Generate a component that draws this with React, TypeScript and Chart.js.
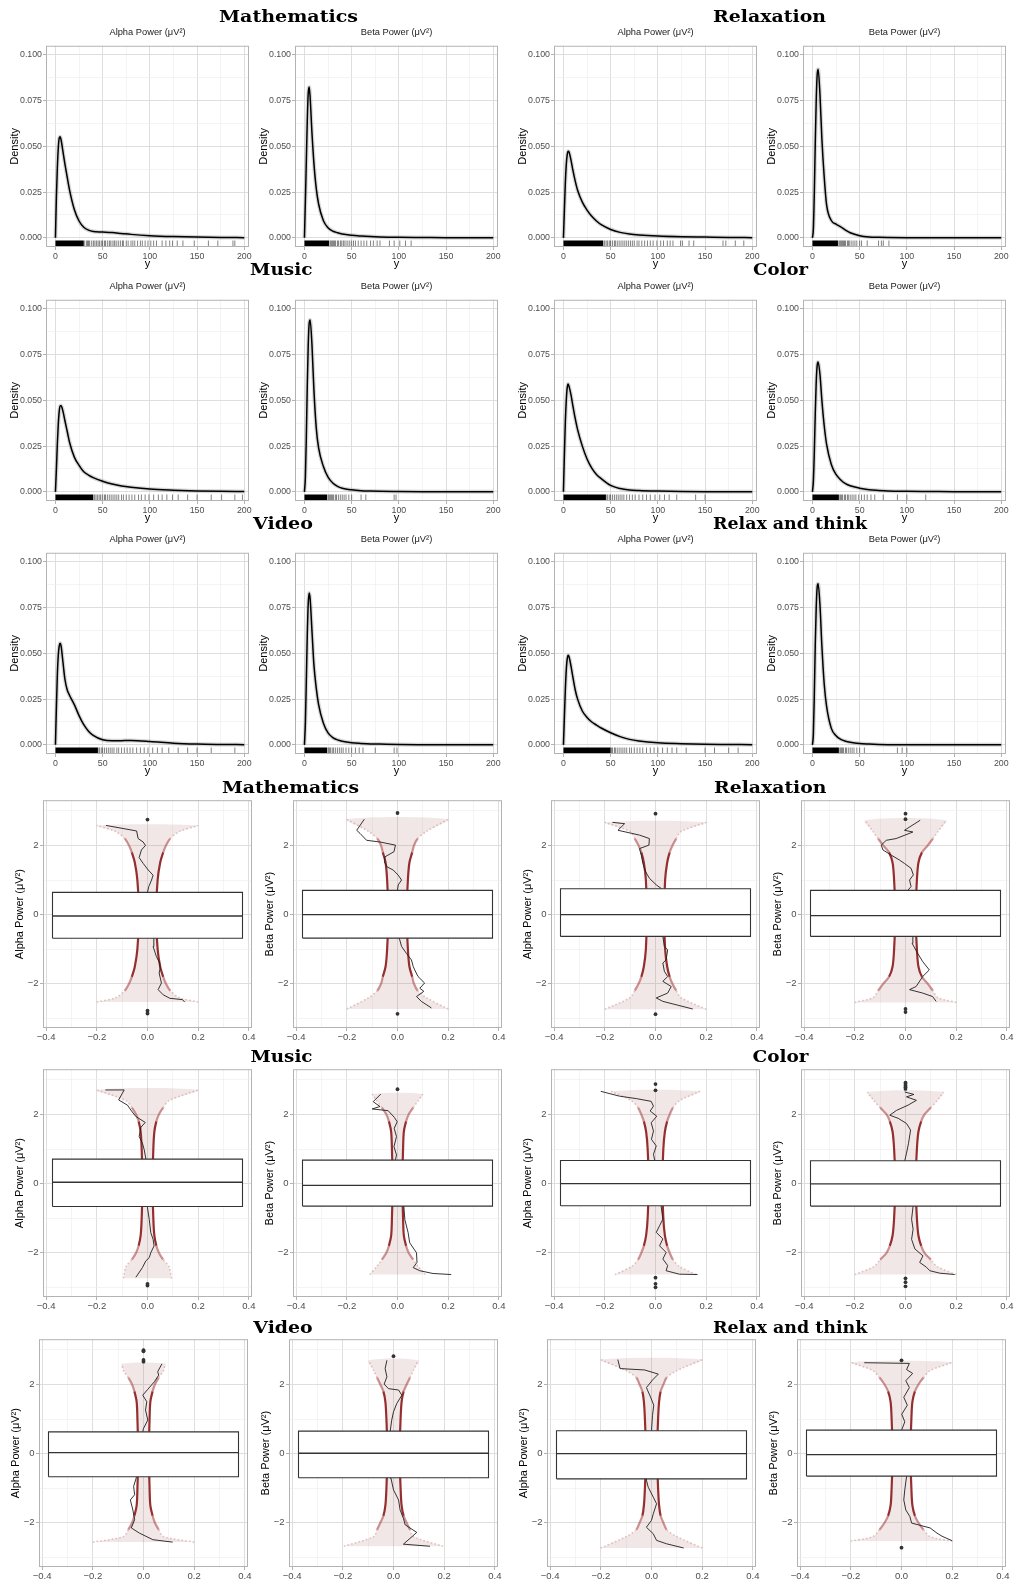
import React, { useEffect, useRef } from 'react';
import { Chart, registerables } from 'chart.js';

Chart.register(...registerables);

const SANS = '"Liberation Sans", Arial, Helvetica, sans-serif';
const SERIF = '"DejaVu Serif", "Liberation Serif", serif';
Chart.defaults.font.family = SANS;
Chart.defaults.color = '#4d4d4d';

// ---------------------------------------------------------------------------
// Labels
// ---------------------------------------------------------------------------
const conditions = ['Mathematics', 'Relaxation', 'Music', 'Color', 'Video', 'Relax and think'];
const powerLabels = ['Alpha Power (\u03bcV\u00b2)', 'Beta Power (\u03bcV\u00b2)'];

// ---------------------------------------------------------------------------
// Density curves (x grid shared by every panel)
// ---------------------------------------------------------------------------
const densityX = [0, 1, 2, 3, 4, 5, 6, 8, 10, 12.5, 15, 20, 25, 30, 35, 40, 50, 60, 70, 80, 100, 125, 150, 175, 200];

const densMathAlpha = [0, 0.022, 0.038, 0.049, 0.0545, 0.0553, 0.0535, 0.047, 0.0405, 0.033, 0.026, 0.0155, 0.0092, 0.0058, 0.0042, 0.0035, 0.0032, 0.0029, 0.0024, 0.0019, 0.0012, 0.0007, 0.0004, 0.0002, 0.0001];
const densMathBeta = [0, 0.02, 0.042, 0.064, 0.079, 0.0825, 0.077, 0.057, 0.041, 0.027, 0.0185, 0.0095, 0.0055, 0.0037, 0.0028, 0.0021, 0.0014, 0.001, 0.0007, 0.0005, 0.0003, 0.0002, 0.0001, 0.00005, 0];
const densRelaxAlpha = [0, 0.015, 0.03, 0.04, 0.0455, 0.0473, 0.0468, 0.0425, 0.037, 0.031, 0.026, 0.0195, 0.0152, 0.0118, 0.0092, 0.0072, 0.0046, 0.003, 0.0021, 0.0016, 0.001, 0.0006, 0.0004, 0.0002, 0.0001];
const densRelaxBeta = [0, 0.005, 0.025, 0.052, 0.075, 0.089, 0.0922, 0.078, 0.054, 0.033, 0.018, 0.0095, 0.0075, 0.006, 0.0042, 0.0028, 0.0012, 0.0005, 0.0003, 0.0002, 0.0001, 0.00005, 0, 0, 0];
const densMusicAlpha = [0, 0.012, 0.026, 0.037, 0.044, 0.047, 0.047, 0.044, 0.039, 0.033, 0.027, 0.019, 0.0145, 0.011, 0.0092, 0.0078, 0.0058, 0.0043, 0.0032, 0.0025, 0.0015, 0.0009, 0.0005, 0.0003, 0.0002];
const densMusicBeta = [0, 0.008, 0.03, 0.058, 0.08, 0.092, 0.094, 0.08, 0.056, 0.035, 0.024, 0.014, 0.008, 0.0048, 0.003, 0.002, 0.0011, 0.0006, 0.0004, 0.0003, 0.0002, 0.0001, 0.00005, 0, 0];
const densColorAlpha = [0, 0.02, 0.038, 0.05, 0.057, 0.059, 0.0575, 0.053, 0.047, 0.04, 0.034, 0.025, 0.018, 0.013, 0.0095, 0.0072, 0.0035, 0.0018, 0.001, 0.0007, 0.0004, 0.0002, 0.0001, 0.00005, 0];
const densColorBeta = [0, 0.006, 0.022, 0.043, 0.06, 0.069, 0.071, 0.064, 0.05, 0.036, 0.026, 0.015, 0.0095, 0.0065, 0.0045, 0.0033, 0.002, 0.0012, 0.0008, 0.0005, 0.0003, 0.0002, 0.0001, 0.00005, 0];
const densVideoAlpha = [0, 0.02, 0.038, 0.049, 0.054, 0.0555, 0.054, 0.045, 0.036, 0.03, 0.027, 0.022, 0.016, 0.011, 0.0075, 0.0052, 0.0028, 0.0022, 0.0023, 0.0024, 0.0019, 0.0009, 0.0004, 0.0002, 0.0001];
const densVideoBeta = [0, 0.012, 0.035, 0.06, 0.077, 0.083, 0.08, 0.062, 0.044, 0.031, 0.022, 0.012, 0.0065, 0.004, 0.0027, 0.002, 0.0012, 0.0008, 0.0005, 0.0004, 0.0002, 0.0001, 0.00005, 0, 0];
const densThinkAlpha = [0, 0.015, 0.03, 0.041, 0.047, 0.049, 0.048, 0.043, 0.037, 0.03, 0.025, 0.0185, 0.015, 0.0125, 0.0108, 0.0092, 0.0066, 0.0045, 0.003, 0.0021, 0.0011, 0.0006, 0.0003, 0.0002, 0.0001];
const densThinkBeta = [0, 0.006, 0.028, 0.055, 0.075, 0.086, 0.088, 0.076, 0.054, 0.033, 0.021, 0.009, 0.005, 0.003, 0.002, 0.0014, 0.0007, 0.0004, 0.0002, 0.0001, 0.00005, 0, 0, 0, 0];

// Rug marks: observations beyond the solid block near zero
const rugMathAlpha = [31, 33, 34, 35, 36, 38, 40, 41, 43, 44, 46, 47, 49, 50, 52, 53, 55, 57, 58, 60, 62, 63, 65, 67, 69, 71, 72, 75, 77, 80, 82, 84, 87, 90, 92, 95, 98, 101, 104, 107, 113, 117, 121, 124, 129, 135, 147, 162, 172, 188, 190];
const rugMathBeta = [27, 28, 29, 30, 31, 32, 33, 35, 36, 38, 39, 41, 42, 44, 46, 48, 50, 52, 54, 57, 60, 63, 66, 70, 73, 77, 80, 90, 95, 101, 107, 113];
const rugRelaxAlpha = [43, 44, 46, 47, 49, 50, 52, 54, 55, 57, 59, 61, 63, 65, 67, 69, 71, 73, 75, 78, 80, 83, 86, 89, 92, 95, 99, 103, 106, 110, 113, 116, 124, 126, 133, 138, 169, 172, 182, 191];
const rugRelaxBeta = [28, 29, 30, 31, 32, 33, 34, 35, 37, 38, 39, 41, 43, 45, 47, 50, 52, 58, 70, 73, 75, 81];
const rugMusicAlpha = [41, 42, 44, 45, 47, 48, 50, 52, 53, 55, 57, 59, 61, 63, 65, 67, 70, 72, 75, 78, 81, 84, 88, 91, 95, 99, 104, 109, 113, 118, 124, 130, 140, 150, 165, 176, 190, 198];
const rugMusicBeta = [25, 26, 27, 28, 29, 30, 31, 33, 34, 36, 38, 40, 42, 44, 47, 50, 60, 65, 95, 97];
const rugColorAlpha = [46, 47, 49, 50, 52, 54, 56, 58, 60, 62, 64, 67, 70, 73, 76, 80, 84, 88, 92, 97, 102, 107, 112, 120, 140, 150];
const rugColorBeta = [29, 30, 31, 32, 34, 35, 37, 38, 40, 42, 44, 46, 49, 52, 55, 58, 62, 66, 75, 90, 100, 120];
const rugVideoAlpha = [46, 47, 49, 50, 52, 54, 56, 58, 60, 62, 65, 67, 70, 73, 76, 79, 82, 86, 90, 94, 98, 103, 108, 113, 120, 130, 140, 150, 165, 190];
const rugVideoBeta = [25, 26, 27, 28, 30, 31, 33, 35, 37, 39, 41, 44, 47, 50, 54, 58, 62, 75, 95, 98];
const rugThinkAlpha = [51, 52, 54, 55, 57, 59, 61, 63, 65, 67, 70, 72, 75, 78, 81, 84, 88, 92, 96, 100, 105, 110, 115, 120, 130, 150, 160, 175, 185];
const rugThinkBeta = [29, 30, 31, 32, 33, 35, 36, 38, 40, 42, 44, 47, 50, 55, 90, 95, 100];
// end of the solid rug block, per panel
const rugSolidEnd = [30, 26, 42, 27, 40, 24, 45, 28, 45, 24, 50, 28];

const densityXMajor = [0, 50, 100, 150, 200];
const densityXMinor = [25, 75, 125, 175];
const densityYMajor = [0, 0.025, 0.05, 0.075, 0.1];
const densityYMinor = [0.0125, 0.0375, 0.0625, 0.0875];

// ---------------------------------------------------------------------------
// Worm plots with box plots
// ---------------------------------------------------------------------------
const wormXMajor = [-0.4, -0.2, 0, 0.2, 0.4];
const wormXMinor = [-0.3, -0.1, 0.1, 0.3];
const wormYMajor = [-2, 0, 2];
const wormYMinor = [-3, -1, 1, 3];

// confidence band half-widths at these |quantile| levels
const bandLevels = [0, 1, 1.5, 1.8, 2, 2.2, 2.4];
const bandMathAlpha = [0.034, 0.04, 0.05, 0.062, 0.073, 0.09, 0.125];
const bandMathBeta = [0.036, 0.041, 0.047, 0.058, 0.065, 0.08, 0.113];
const bandRelaxAlpha = [0.034, 0.038, 0.046, 0.056, 0.067, 0.082, 0.1];
const bandRelaxBeta = [0.04, 0.045, 0.051, 0.065, 0.088, 0.108, 0.128];
const bandMusicAlpha = [0.02, 0.023, 0.027, 0.035, 0.045, 0.062, 0.085];
const bandMusicBeta = [0.019, 0.022, 0.025, 0.034, 0.044, 0.062, 0.082];
const bandColorAlpha = [0.027, 0.031, 0.037, 0.046, 0.056, 0.069, 0.095];
const bandColorBeta = [0.04, 0.045, 0.051, 0.062, 0.075, 0.1, 0.125];
const bandVideoAlpha = [0.021, 0.024, 0.027, 0.036, 0.045, 0.06, 0.079];
const bandVideoBeta = [0.024, 0.028, 0.032, 0.04, 0.052, 0.065, 0.078];
const bandThinkAlpha = [0.022, 0.026, 0.03, 0.036, 0.047, 0.06, 0.1];
const bandThinkBeta = [0.035, 0.039, 0.043, 0.053, 0.067, 0.087, 0.113];

const bandTopY = [2.58, 2.76, 2.67, 2.73, 2.71, 2.59, 2.67, 2.65, 2.6, 2.7, 2.72, 2.64];
const bandTopCap = [0.2, 0.2, 0.2, 0.16, 0.2, 0.1, 0.175, 0.15, 0.085, 0.098, 0.2, 0.2];
const bandBottomY = [-2.53, -2.73, -2.74, -2.54, -2.74, -2.63, -2.63, -2.63, -2.56, -2.68, -2.73, -2.53];
const bandBottomCap = [0.2, 0.2, 0.2, 0.2, 0.095, 0.11, 0.16, 0.2, 0.2, 0.196, 0.2, 0.2];

// box plot statistics
const boxQ1 = [-0.683, -0.68, -0.63, -0.63, -0.66, -0.65, -0.64, -0.65, -0.67, -0.7, -0.73, -0.65];
const boxMedian = [-0.04, 0, 0, -0.03, 0.04, -0.05, 0, -0.01, 0.03, 0.01, 0, -0.03];
const boxQ3 = [0.644, 0.7, 0.75, 0.7, 0.71, 0.68, 0.67, 0.66, 0.63, 0.65, 0.66, 0.68];
const BOX_HALF = 0.375;

const outMathAlpha = [2.75, -2.78, -2.86];
const outMathBeta = [2.94, -2.87];
const outRelaxAlpha = [2.92, -2.88];
const outRelaxBeta = [2.92, 2.76, -2.73, -2.82];
const outMusicAlpha = [-2.9, -2.95];
const outMusicBeta = [2.73];
const outColorAlpha = [2.88, 2.7, -2.72, -2.9, -3.0];
const outColorBeta = [2.92, 2.88, 2.83, 2.79, 2.74, -2.74, -2.85, -2.97];
const outVideoAlpha = [2.99, 2.96, 2.71, 2.66];
const outVideoBeta = [2.82];
const outThinkAlpha: number[] = [];
const outThinkBeta = [2.7, -2.72];

// worm lines: [deviation, unit normal quantile]
const wormMathAlpha = [[0.147, -2.53], [0.138, -2.46], [0.088, -2.42], [0.062, -2.32], [0.042, -2.17], [0.055, -1.98], [0.046, -1.69], [0.05, -1.55], [0.048, -1.4], [0.035, -1.21], [0.022, -0.92], [0.025, -0.68], [0, 0.65], [0.005, 0.81], [0.016, 1.0], [0.022, 1.14], [0.003, 1.29], [-0.017, 1.48], [-0.033, 1.65], [-0.024, 1.87], [-0.008, 2.0], [-0.017, 2.1], [-0.037, 2.2], [-0.043, 2.42], [-0.164, 2.58]];
const wormMathBeta = [[0.134, -2.7], [0.094, -2.51], [0.075, -2.37], [0.104, -2.22], [0.088, -2.13], [0.107, -1.98], [0.081, -1.79], [0.068, -1.6], [0.062, -1.5], [0.055, -1.31], [0.035, -1.12], [0.016, -0.92], [0.007, -0.68], [0, 0.71], [0.003, 0.86], [0.016, 1.0], [0.003, 1.14], [-0.017, 1.29], [-0.041, 1.38], [-0.052, 1.53], [-0.05, 1.67], [-0.014, 1.82], [-0.008, 2.01], [-0.069, 2.1], [-0.122, 2.15], [-0.148, 2.35], [-0.161, 2.44], [-0.131, 2.76]];
const wormRelaxAlpha = [[0.147, -2.73], [0.029, -2.51], [0.003, -2.41], [0.048, -2.27], [0.062, -2.08], [0.029, -1.93], [0.048, -1.79], [0.035, -1.64], [0.029, -1.4], [0.042, -1.31], [0.048, -1.02], [0.035, -0.92], [0.029, -0.63], [0.022, 0.76], [0.003, 0.86], [-0.024, 1.05], [-0.039, 1.24], [-0.05, 1.48], [-0.056, 1.72], [-0.063, 1.91], [-0.026, 2.01], [-0.024, 2.2], [-0.063, 2.3], [-0.148, 2.44], [-0.122, 2.63], [-0.17, 2.67]];
const wormRelaxBeta = [[0.121, -2.51], [0.107, -2.37], [0.068, -2.27], [0.016, -2.17], [0.042, -2.08], [0.068, -1.79], [0.094, -1.6], [0.068, -1.36], [0.048, -1.12], [0.026, -0.83], [0.029, -0.63], [0.009, 0.7], [0.022, 0.81], [0.016, 1.0], [0.031, 1.15], [0.022, 1.34], [-0.004, 1.48], [-0.024, 1.58], [-0.056, 1.72], [-0.089, 1.87], [-0.096, 2.01], [-0.076, 2.15], [-0.037, 2.2], [0.029, 2.39], [-0.004, 2.44], [0.058, 2.73]];
const wormMusicAlpha = [[-0.046, -2.71], [-0.02, -2.43], [-0.007, -2.24], [0.007, -2.14], [0.013, -2.0], [0.026, -1.8], [0.022, -1.61], [0.013, -1.42], [0.007, -1.04], [0, -0.7], [-0.007, 0.74], [-0.013, 0.98], [-0.02, 1.17], [-0.033, 1.36], [-0.026, 1.63], [-0.009, 1.77], [-0.046, 1.94], [-0.066, 2.13], [-0.079, 2.27], [-0.114, 2.42], [-0.092, 2.71], [-0.166, 2.71]];
const wormMusicBeta = [[0.212, -2.63], [0.14, -2.6], [0.088, -2.52], [0.062, -2.43], [0.077, -2.28], [0.075, -2.0], [0.048, -1.71], [0.042, -1.42], [0.029, -1.04], [0.025, -0.65], [-0.008, 0.69], [-0.004, 0.83], [-0.014, 1.07], [-0.004, 1.36], [-0.013, 1.6], [-0.001, 1.79], [-0.013, 1.92], [-0.037, 2.11], [-0.1, 2.16], [-0.069, 2.23], [-0.096, 2.37], [-0.066, 2.59]];
const wormColorAlpha = [[0.166, -2.63], [0.094, -2.62], [0.042, -2.52], [0.048, -2.37], [0.029, -2.18], [0.042, -1.99], [0.016, -1.8], [0.029, -1.6], [0.003, -1.41], [0.016, -1.22], [0.029, -1.03], [0.022, -0.64], [-0.003, 0.67], [-0.008, 0.85], [0.003, 1.09], [-0.016, 1.28], [-0.008, 1.52], [-0.017, 1.76], [0.005, 1.95], [-0.021, 2.1], [-0.008, 2.24], [-0.017, 2.38], [-0.076, 2.46], [-0.142, 2.53], [-0.216, 2.67]];
const wormColorBeta = [[0.194, -2.63], [0.135, -2.59], [0.096, -2.52], [0.083, -2.42], [0.056, -2.28], [0.069, -2.09], [0.037, -1.89], [0.024, -1.61], [0.03, -1.32], [0.024, -1.03], [0.03, -0.65], [-0.003, 0.66], [0.004, 0.88], [0.012, 1.17], [0.02, 1.55], [0.004, 1.74], [-0.029, 1.89], [-0.062, 1.98], [-0.035, 2.12], [0.01, 2.27], [0.043, 2.41], [0.004, 2.51], [0.033, 2.58], [-0.003, 2.65]];
const wormVideoAlpha = [[0.115, -2.56], [0.037, -2.49], [-0.016, -2.3], [-0.048, -2.15], [-0.035, -1.91], [-0.042, -1.63], [-0.052, -1.34], [-0.035, -1.19], [-0.039, -0.95], [-0.029, -0.71], [-0.003, 0.63], [0, 0.73], [0.017, 0.97], [0.008, 1.26], [0.013, 1.5], [-0.003, 1.69], [0.017, 1.86], [0.043, 2.08], [0.06, 2.27], [0.056, 2.37], [0.073, 2.6]];
const wormVideoBeta = [[0.144, -2.68], [0.039, -2.62], [0.092, -2.28], [0.046, -2.06], [0.039, -1.87], [0.026, -1.63], [0.02, -1.34], [0, -1.05], [-0.01, -0.71], [-0.013, 0.65], [-0.007, 0.97], [0, 1.21], [0.013, 1.45], [0.033, 1.69], [0.02, 1.84], [-0.02, 1.88], [-0.037, 2.01], [-0.026, 2.22], [-0.033, 2.46], [-0.026, 2.7]];
const wormThinkAlpha = [[0.127, -2.73], [0.06, -2.61], [0.02, -2.51], [0.007, -2.32], [-0.02, -2.13], [0, -1.93], [0.007, -1.74], [0.02, -1.45], [0.007, -1.26], [-0.013, -0.97], [-0.02, -0.77], [0, 0.66], [0.004, 1.11], [0.009, 1.4], [-0.004, 1.64], [-0.02, 1.91], [0.004, 2.13], [0.027, 2.3], [-0.027, 2.42], [-0.124, 2.46], [-0.133, 2.72]];
const wormThinkBeta = [[0.2, -2.52], [0.16, -2.39], [0.14, -2.3], [0.113, -2.15], [0.04, -2.01], [0.033, -1.82], [0.017, -1.63], [0.009, -1.34], [0.013, -1.05], [0.02, -0.66], [0, 0.67], [0.013, 0.92], [0.001, 1.14], [0.023, 1.4], [0.009, 1.63], [0.031, 1.91], [0.017, 2.11], [0.044, 2.32], [0.02, 2.43], [0.031, 2.61], [-0.147, 2.63]];

// panel order: per row -> condition A alpha, A beta, condition B alpha, B beta
const densitySeries = [densMathAlpha, densMathBeta, densRelaxAlpha, densRelaxBeta, densMusicAlpha, densMusicBeta, densColorAlpha, densColorBeta, densVideoAlpha, densVideoBeta, densThinkAlpha, densThinkBeta];
const rugSeries = [rugMathAlpha, rugMathBeta, rugRelaxAlpha, rugRelaxBeta, rugMusicAlpha, rugMusicBeta, rugColorAlpha, rugColorBeta, rugVideoAlpha, rugVideoBeta, rugThinkAlpha, rugThinkBeta];
const bandSeries = [bandMathAlpha, bandMathBeta, bandRelaxAlpha, bandRelaxBeta, bandMusicAlpha, bandMusicBeta, bandColorAlpha, bandColorBeta, bandVideoAlpha, bandVideoBeta, bandThinkAlpha, bandThinkBeta];
const outlierSeries = [outMathAlpha, outMathBeta, outRelaxAlpha, outRelaxBeta, outMusicAlpha, outMusicBeta, outColorAlpha, outColorBeta, outVideoAlpha, outVideoBeta, outThinkAlpha, outThinkBeta];
const wormSeries = [wormMathAlpha, wormMathBeta, wormRelaxAlpha, wormRelaxBeta, wormMusicAlpha, wormMusicBeta, wormColorAlpha, wormColorBeta, wormVideoAlpha, wormVideoBeta, wormThinkAlpha, wormThinkBeta];

// ---------------------------------------------------------------------------
// Page layout (plot-area rectangles in page pixels)
// ---------------------------------------------------------------------------
const DENS_LEFT = [46, 295, 554, 803];
const DENS_TOP = [46, 300, 553];
const DENS_W = 203;
const DENS_H = 201;
const DENS_AXIS_W = 46;
const DENS_HEAD = 22;
const DENS_FOOT = 28;
const DENS_PAD_R = 8;

const WORM_LEFT = [
  [43, 293, 551, 801],
  [43, 293, 551, 801],
  [39, 289, 547, 797],
];
const WORM_TOP = [800, 1069, 1339];
const WORM_W = 209;
const WORM_H = 228;
const WORM_AXIS_W = 43;
const WORM_PAD_T = 7;
const WORM_FOOT = 18;
const WORM_PAD_R = 5;

const headings = [
  { text: conditions[0], x0: 219, x1: 358, base: 21.5 },
  { text: conditions[1], x0: 713, x1: 826, base: 21.5 },
  { text: conditions[2], x0: 250, x1: 312.5, base: 275 },
  { text: conditions[3], x0: 753, x1: 808, base: 275 },
  { text: conditions[4], x0: 253, x1: 313, base: 528.5 },
  { text: conditions[5], x0: 713, x1: 867, base: 528.5 },
  { text: conditions[0], x0: 222, x1: 359, base: 792.5 },
  { text: conditions[1], x0: 714, x1: 826.5, base: 792.5 },
  { text: conditions[2], x0: 250.5, x1: 312.5, base: 1062.3 },
  { text: conditions[3], x0: 752.5, x1: 808.5, base: 1062.3 },
  { text: conditions[4], x0: 253.3, x1: 312.7, base: 1332.7 },
  { text: conditions[5], x0: 713, x1: 867.3, base: 1332.7 },
];

// ---------------------------------------------------------------------------
// Helpers
// ---------------------------------------------------------------------------
const near = (list: number[], v: number) => list.some((m) => Math.abs(m - v) < 1e-9);
const withMinus = (s: string) => s.replace('-', '\u2212');

function fixedTicks(major: number[], minor: number[]) {
  const all = [...major, ...minor].sort((a, b) => a - b);
  return (scale: any) => {
    scale.ticks = all.map((value) => ({ value }));
  };
}

function gridStyle(major: number[]) {
  const isMajor = (c: any) => !!(c && c.tick && near(major, c.tick.value));
  return {
    color: (c: any) => (isMajor(c) ? '#dedede' : '#ececec'),
    lineWidth: (c: any) => (isMajor(c) ? 1 : 0.6),
    tickColor: (c: any) => (isMajor(c) ? '#b3b3b3' : 'rgba(0,0,0,0)'),
    tickLength: 3,
    tickWidth: 1,
    drawTicks: true,
  };
}

const panelBorder = {
  id: 'panelBorder',
  afterDatasetsDraw(chart: any) {
    const { ctx, chartArea: a } = chart;
    ctx.save();
    ctx.strokeStyle = '#b3b3b3';
    ctx.lineWidth = 1;
    ctx.strokeRect(a.left + 0.5, a.top + 0.5, a.width - 1, a.height - 1);
    ctx.restore();
  },
};

const densityTickFont = { size: 8.8 };
const wormTickFont = { size: 9.5 };
const axisTitleFont = { size: 11 };

// ---------------------------------------------------------------------------
// Density panel
// ---------------------------------------------------------------------------
function densityConfig(idx: number) {
  const values = densitySeries[idx];
  const rug = rugSeries[idx];
  const solidEnd = rugSolidEnd[idx];
  const label = powerLabels[idx % 2];
  const pts = densityX.map((x, i) => ({ x, y: values[i] }));

  const rugMarks = {
    id: 'rugMarks',
    afterDatasetsDraw(chart: any) {
      const { ctx, chartArea: a, scales } = chart;
      const xs = scales.x;
      const len = 6.5;
      ctx.save();
      ctx.beginPath();
      ctx.rect(a.left, a.top, a.width, a.height);
      ctx.clip();
      const p0 = xs.getPixelForValue(0);
      const p1 = xs.getPixelForValue(solidEnd);
      ctx.fillStyle = '#000';
      ctx.fillRect(p0, a.bottom - len, p1 - p0, len);
      ctx.strokeStyle = 'rgba(0,0,0,0.55)';
      ctx.lineWidth = 0.9;
      for (const v of rug) {
        const px = xs.getPixelForValue(v);
        ctx.beginPath();
        ctx.moveTo(px, a.bottom);
        ctx.lineTo(px, a.bottom - len);
        ctx.stroke();
      }
      ctx.restore();
    },
  };

  return {
    type: 'line',
    data: {
      datasets: [
        { data: pts, borderColor: '#000', borderWidth: 1.5, pointRadius: 0, cubicInterpolationMode: 'monotone', fill: false },
        { data: pts, borderColor: 'rgba(110,110,110,0.28)', borderWidth: 4, pointRadius: 0, cubicInterpolationMode: 'monotone', fill: false },
      ],
    },
    options: {
      animation: false,
      responsive: false,
      maintainAspectRatio: false,
      events: [],
      layout: { padding: { left: 0, right: DENS_PAD_R, top: 0, bottom: 0 } },
      plugins: {
        legend: { display: false },
        tooltip: { enabled: false },
        title: {
          display: true,
          text: label,
          fullSize: false,
          color: '#1a1a1a',
          font: { size: 9.3, weight: 'normal' },
          padding: { top: 3.3, bottom: 7.3 },
        },
      },
      scales: {
        x: {
          type: 'linear',
          min: -10,
          max: 205,
          afterBuildTicks: fixedTicks(densityXMajor, densityXMinor),
          afterFit: (s: any) => {
            s.height = DENS_FOOT;
          },
          grid: gridStyle(densityXMajor),
          border: { display: false },
          ticks: {
            autoSkip: false,
            maxRotation: 0,
            padding: 1,
            font: densityTickFont,
            color: '#4d4d4d',
            callback: (v: any) => (near(densityXMajor, Number(v)) ? String(v) : ''),
          },
          title: { display: true, text: 'y', color: '#000', font: axisTitleFont, padding: { top: 0, bottom: 4.2 } },
        },
        y: {
          type: 'linear',
          min: -0.005,
          max: 0.105,
          afterBuildTicks: fixedTicks(densityYMajor, densityYMinor),
          afterFit: (s: any) => {
            s.width = DENS_AXIS_W;
          },
          grid: gridStyle(densityYMajor),
          border: { display: false },
          ticks: {
            autoSkip: false,
            padding: 1,
            font: densityTickFont,
            color: '#4d4d4d',
            callback: (v: any) => (near(densityYMajor, Number(v)) ? Number(v).toFixed(3) : ''),
          },
          title: { display: true, text: 'Density', color: '#000', font: axisTitleFont, padding: { top: 8.4, bottom: 0 } },
        },
      },
    },
    plugins: [rugMarks, panelBorder],
  };
}

// ---------------------------------------------------------------------------
// Worm + box panel
// ---------------------------------------------------------------------------
function edgeColor(y: number) {
  const a = Math.abs(y);
  if (a < 1.9) return 'rgba(139,26,26,0.9)';
  if (a < 2.25) return 'rgba(165,60,60,0.55)';
  return 'rgba(205,140,140,0.5)';
}

function wormConfig(idx: number) {
  const half = bandSeries[idx];
  const label = powerLabels[idx % 2];

  const edge = (sign: number) => {
    const pts: { x: number; y: number }[] = [{ x: sign * bandBottomCap[idx], y: bandBottomY[idx] }];
    for (let i = bandLevels.length - 1; i >= 1; i--) pts.push({ x: sign * half[i], y: -bandLevels[i] });
    pts.push({ x: sign * half[0], y: 0 });
    for (let i = 1; i < bandLevels.length; i++) pts.push({ x: sign * half[i], y: bandLevels[i] });
    pts.push({ x: sign * bandTopCap[idx], y: bandTopY[idx] });
    return pts;
  };
  const leftEdge = edge(-1);
  const rightEdge = edge(1);
  const bandShape = [...leftEdge, ...rightEdge.slice().reverse()];

  const q1 = boxQ1[idx];
  const q3 = boxQ3[idx];
  const med = boxMedian[idx];
  const boxRect = [
    { x: -BOX_HALF, y: q1 },
    { x: BOX_HALF, y: q1 },
    { x: BOX_HALF, y: q3 },
    { x: -BOX_HALF, y: q3 },
    { x: -BOX_HALF, y: q1 },
  ];
  const medianLine = [
    { x: -BOX_HALF, y: med },
    { x: BOX_HALF, y: med },
  ];
  const outliers = outlierSeries[idx].map((y) => ({ x: 0, y }));
  const worm = wormSeries[idx].map(([x, y]) => ({ x, y }));

  const midY = (c: any) => Math.abs((c.p0.parsed.y + c.p1.parsed.y) / 2);
  const edgeSegment = {
    borderColor: (c: any) => edgeColor(midY(c)),
    borderWidth: (c: any) => (midY(c) < 2.25 ? 2.2 : 1.6),
    borderDash: (c: any) => (midY(c) < 2.25 ? [] : [1.6, 2.2]),
  };

  return {
    type: 'line',
    data: {
      datasets: [
        { data: medianLine, borderColor: '#333', borderWidth: 1.3, pointRadius: 0, fill: false },
        { data: boxRect, borderColor: '#333', borderWidth: 1.1, backgroundColor: '#ffffff', fill: 'shape', pointRadius: 0 },
        { data: outliers, showLine: false, pointRadius: 1.9, pointBackgroundColor: '#333', pointBorderWidth: 0, borderColor: '#333' },
        { data: worm, borderColor: '#1e1e1e', borderWidth: 0.9, pointRadius: 0, fill: false },
        { data: leftEdge, borderColor: 'rgba(139,26,26,0.9)', segment: edgeSegment, borderWidth: 2.2, pointRadius: 0, tension: 0.3, fill: false },
        { data: rightEdge, borderColor: 'rgba(139,26,26,0.9)', segment: edgeSegment, borderWidth: 2.2, pointRadius: 0, tension: 0.3, fill: false },
        { data: bandShape, borderWidth: 0, borderColor: 'rgba(0,0,0,0)', backgroundColor: 'rgba(180,110,110,0.17)', fill: 'shape', pointRadius: 0, tension: 0.3 },
      ],
    },
    options: {
      animation: false,
      responsive: false,
      maintainAspectRatio: false,
      events: [],
      layout: { padding: { left: 0, right: WORM_PAD_R, top: WORM_PAD_T, bottom: 0 } },
      plugins: { legend: { display: false }, tooltip: { enabled: false } },
      scales: {
        x: {
          type: 'linear',
          min: -0.4125,
          max: 0.4125,
          afterBuildTicks: fixedTicks(wormXMajor, wormXMinor),
          afterFit: (s: any) => {
            s.height = WORM_FOOT;
          },
          grid: gridStyle(wormXMajor),
          border: { display: false },
          ticks: {
            autoSkip: false,
            maxRotation: 0,
            padding: 1,
            font: wormTickFont,
            color: '#4d4d4d',
            callback: (v: any) => (near(wormXMajor, Number(v)) ? withMinus(Number(v).toFixed(1)) : ''),
          },
        },
        y: {
          type: 'linear',
          min: -3.28,
          max: 3.31,
          afterBuildTicks: fixedTicks(wormYMajor, wormYMinor),
          afterFit: (s: any) => {
            s.width = WORM_AXIS_W;
          },
          grid: gridStyle(wormYMajor),
          border: { display: false },
          ticks: {
            autoSkip: false,
            padding: 1.5,
            font: wormTickFont,
            color: '#4d4d4d',
            callback: (v: any) => (near(wormYMajor, Number(v)) ? withMinus(String(v)) : ''),
          },
          title: { display: true, text: label, color: '#000', font: axisTitleFont, padding: { top: 12.9, bottom: 0 } },
        },
      },
    },
    plugins: [panelBorder],
  };
}

// ---------------------------------------------------------------------------
// Components
// ---------------------------------------------------------------------------
function ChartCanvas({ left, top, width, height, make }: any) {
  const ref = useRef<HTMLCanvasElement>(null);
  useEffect(() => {
    const chart = new Chart(ref.current as HTMLCanvasElement, make() as any);
    return () => chart.destroy();
  }, []);
  return (
    <canvas
      ref={ref}
      width={width}
      height={height}
      style={{ position: 'absolute', left, top, width, height }}
    />
  );
}

function Headings() {
  const ref = useRef<HTMLCanvasElement>(null);
  useEffect(() => {
    const c = ref.current as HTMLCanvasElement;
    const ctx = c.getContext('2d') as CanvasRenderingContext2D;
    ctx.clearRect(0, 0, c.width, c.height);
    ctx.fillStyle = '#000';
    ctx.font = `bold 17px ${SERIF}`;
    ctx.textBaseline = 'alphabetic';
    for (const h of headings) {
      const w = ctx.measureText(h.text).width;
      const sx = (h.x1 - h.x0) / w;
      ctx.save();
      ctx.translate(h.x0, h.base);
      ctx.scale(sx, 1);
      ctx.fillText(h.text, 0, 0);
      ctx.restore();
    }
  }, []);
  return (
    <canvas
      ref={ref}
      width={1015}
      height={1583}
      style={{ position: 'absolute', left: 0, top: 0, width: 1015, height: 1583, pointerEvents: 'none' }}
    />
  );
}

export default function App() {
  const densityPanels = [];
  const wormPanels = [];
  for (let r = 0; r < 3; r++) {
    for (let c = 0; c < 4; c++) {
      const idx = r * 4 + c;
      densityPanels.push(
        <ChartCanvas
          key={`d${idx}`}
          left={DENS_LEFT[c] - DENS_AXIS_W}
          top={DENS_TOP[r] - DENS_HEAD}
          width={DENS_AXIS_W + DENS_W + DENS_PAD_R}
          height={DENS_HEAD + DENS_H + DENS_FOOT}
          make={() => densityConfig(idx)}
        />
      );
      wormPanels.push(
        <ChartCanvas
          key={`w${idx}`}
          left={WORM_LEFT[r][c] - WORM_AXIS_W}
          top={WORM_TOP[r] - WORM_PAD_T}
          width={WORM_AXIS_W + WORM_W + WORM_PAD_R}
          height={WORM_PAD_T + WORM_H + WORM_FOOT}
          make={() => wormConfig(idx)}
        />
      );
    }
  }
  return (
    <div
      style={{
        position: 'absolute',
        left: 0,
        top: 0,
        width: 1015,
        height: 1583,
        overflow: 'hidden',
        background: '#ffffff',
      }}
    >
      {densityPanels}
      {wormPanels}
      <Headings />
    </div>
  );
}
